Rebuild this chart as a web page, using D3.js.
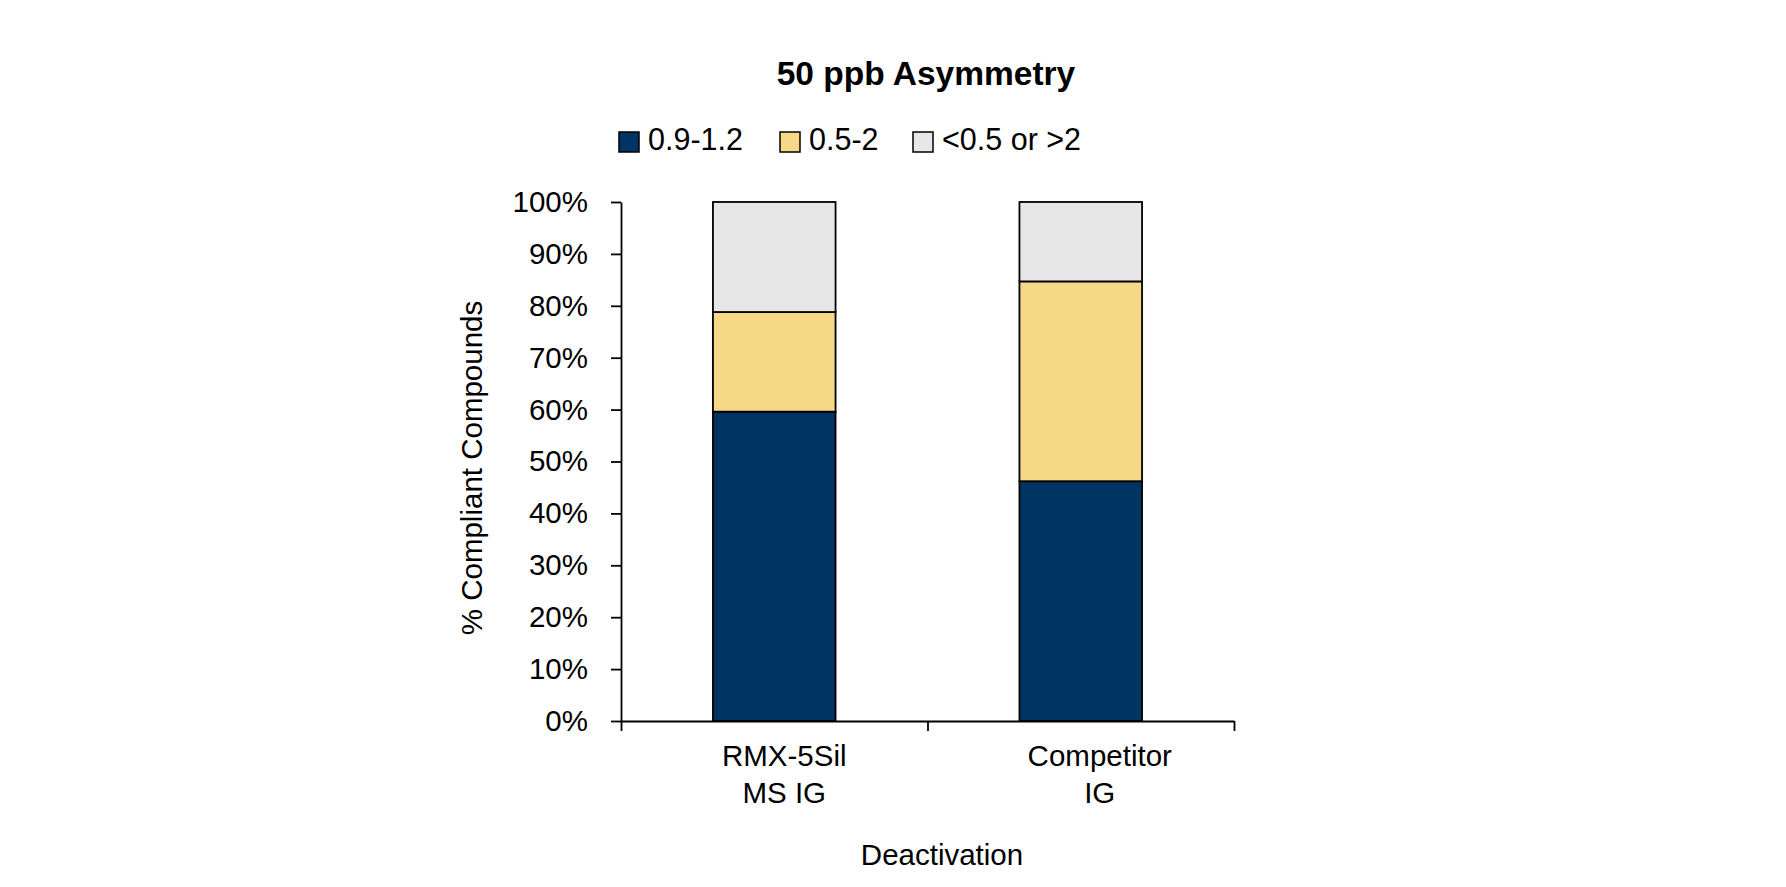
<!DOCTYPE html>
<html>
<head>
<meta charset="utf-8">
<script src="https://cdn.jsdelivr.net/npm/d3@7"></script>
<style>
  body { margin: 0; background: #fff; }
  svg text { font-family: "Liberation Sans", Arial, sans-serif; fill: #000; }
</style>
</head>
<body>
<svg id="chart" width="1786" height="887"></svg>
<script>
// chart values
var categories = [["RMX-5Sil", "MS IG"], ["Competitor", "IG"]]
var seriesNames = ["0.9-1.2", "0.5-2", "<0.5 or >2"]
var seriesColors = ["#003463", "#F5D987", "#E7E7E7"]
var goodAsym = [59.6, 46.2]      // 0.9-1.2
var okAsym = [19.2, 38.5]        // 0.5-2
var badAsym = [21.2, 15.3]       // <0.5 or >2
var yTicks = [0, 10, 20, 30, 40, 50, 60, 70, 80, 90, 100]

var rows = categories.map(function (c, i) {
    return { cat: c.join(" "), "0.9-1.2": goodAsym[i], "0.5-2": okAsym[i], "<0.5 or >2": badAsym[i] }
})

var svg = d3.select("#chart")

var x = d3.scaleBand()
    .domain(rows.map(d => d.cat))
    .range([621, 1234])
    .paddingInner(0.6)
    .paddingOuter(0.3)

var y = d3.scaleLinear().domain([0, 100]).range([721, 202])

var stacked = d3.stack().keys(seriesNames)(rows)

// bars
svg.append("g").selectAll("g")
    .data(stacked)
    .enter()
    .append("g")
    .attr("fill", (d, i) => seriesColors[i])
    .selectAll("rect")
    .data(d => d)
    .enter()
    .append("rect")
    .attr("x", d => x(d.data.cat))
    .attr("width", x.bandwidth())
    .attr("y", d => y(d[1]))
    .attr("height", d => y(d[0]) - y(d[1]))
    .attr("stroke", "#000")
    .attr("stroke-width", 1.8)

// y axis
var yAxis = svg.append("g")
    .attr("transform", "translate(621,0)")
    .call(d3.axisLeft(y).tickValues(yTicks).tickFormat(d => d + "%").tickSize(10).tickSizeOuter(0).tickPadding(23))
yAxis.selectAll("text").style("font-size", "29.5px")

// x axis, ticks between categories
var xLin = d3.scaleLinear().domain([0, categories.length]).range(x.range())
var xAxis = svg.append("g")
    .attr("transform", "translate(0,721)")
    .call(d3.axisBottom(xLin).tickValues(d3.range(categories.length + 1)).tickFormat("").tickSize(10).tickSizeOuter(0))

svg.selectAll(".domain, .tick line").attr("stroke", "#000").attr("stroke-width", 1.8)

// category labels
var labelShift = [10, 19]
rows.forEach(function (r, i) {
    var t = svg.append("text")
        .attr("text-anchor", "middle")
        .style("font-size", "29.5px")
    categories[i].forEach(function (line, j) {
        t.append("tspan")
            .attr("x", x(r.cat) + x.bandwidth() / 2 + labelShift[i])
            .attr("y", 766 + j * 37)
            .text(line)
    })
})

// axis titles
svg.append("text")
    .attr("x", 942)
    .attr("y", 865)
    .attr("text-anchor", "middle")
    .style("font-size", "29.5px")
    .text("Deactivation")

svg.append("text")
    .attr("transform", "translate(482,468) rotate(-90)")
    .attr("text-anchor", "middle")
    .style("font-size", "29.5px")
    .text("% Compliant Compounds")

// title
svg.append("text")
    .attr("x", 926)
    .attr("y", 85)
    .attr("text-anchor", "middle")
    .style("font-size", "33.5px")
    .style("font-weight", "bold")
    .text("50 ppb Asymmetry")

// legend
var legendX = [619, 780, 913]
var legend = svg.append("g").selectAll("g")
    .data(seriesNames)
    .enter()
    .append("g")
    .attr("transform", (d, i) => "translate(" + legendX[i] + ",132)")
legend.append("rect")
    .attr("width", 20)
    .attr("height", 20)
    .attr("fill", (d, i) => seriesColors[i])
    .attr("stroke", "#000")
    .attr("stroke-width", 1.5)
legend.append("text")
    .attr("x", 29)
    .attr("y", 17.5)
    .style("font-size", "30.5px")
    .text(d => d)
</script>
</body>
</html>
